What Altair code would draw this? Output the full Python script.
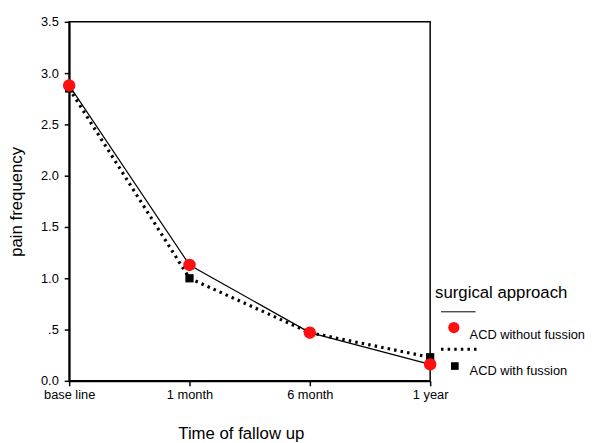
import altair as alt
import pandas as pd

times = ["base line", "1 month", "6 month", "1 year"]
without_fusion = [2.88, 1.13, 0.47, 0.16]
with_fusion = [2.85, 1.00, 0.47, 0.23]
series_names = ["ACD without fussion", "ACD with fussion"]
y_ticks = [0.0, 0.5, 1.0, 1.5, 2.0, 2.5, 3.0, 3.5]

rows = []
for t, a, b in zip(times, without_fusion, with_fusion):
    rows.append({"time": t, "value": a, "series": series_names[0]})
    rows.append({"time": t, "value": b, "series": series_names[1]})
df = pd.DataFrame(rows)

FONT = "Liberation Sans"

x_enc = alt.X("time:N", sort=times,
              scale=alt.Scale(type="point", padding=0),
              axis=alt.Axis(title="Time of fallow up", labelAngle=0, labelFontSize=13,
                            titleFontSize=17, titleFontWeight="normal", titlePadding=24,
                            titleX=174, tickSize=5, labelPadding=3))
y_enc = alt.Y("value:Q", scale=alt.Scale(domain=[0, 3.5], nice=False),
              axis=alt.Axis(title="pain frequency", values=y_ticks, labelFontSize=13,
                            labelExpr="datum.value == 0.5 ? '.5' : format(datum.value, '.1f')",
                            titleFontSize=17, titleFontWeight="normal", titlePadding=15,
                            tickSize=5, labelPadding=6, grid=False))

base = alt.Chart(df)

line_with = base.transform_filter(alt.datum.series == series_names[1]).mark_line(
    color="black", strokeWidth=3.2, strokeDash=[2.5, 4.2]
).encode(x=x_enc, y=y_enc)

line_without = base.transform_filter(alt.datum.series == series_names[0]).mark_line(
    color="black", strokeWidth=1.2
).encode(x=x_enc, y=y_enc)

pts_with = base.transform_filter(alt.datum.series == series_names[1]).mark_point(
    shape="square", filled=True, color="black", size=70, opacity=1
).encode(x=x_enc, y=y_enc)

pts_without = base.transform_filter(alt.datum.series == series_names[0]).mark_point(
    shape="circle", filled=True, color="#ff1010", size=160, opacity=1
).encode(x=x_enc, y=y_enc)

# Manual legend (SPSS style)
leg_title = alt.Chart(pd.DataFrame({"t": ["surgical approach"]})).mark_text(
    align="left", baseline="alphabetic", fontSize=17, font=FONT, color="black"
).encode(x=alt.value(371), y=alt.value(280), text="t:N")

leg_rule1 = alt.Chart(pd.DataFrame({"a": [0]})).mark_rule(color="black", strokeWidth=1).encode(
    x=alt.value(377), x2=alt.value(412), y=alt.value(294))

leg_pt1 = alt.Chart(pd.DataFrame({"a": [0]})).mark_point(
    shape="circle", filled=True, color="#ff1010", size=130, opacity=1
).encode(x=alt.value(390), y=alt.value(310))

leg_lab1 = alt.Chart(pd.DataFrame({"t": [series_names[0]]})).mark_text(
    align="left", baseline="alphabetic", fontSize=13, font=FONT, color="black"
).encode(x=alt.value(406), y=alt.value(322), text="t:N")

leg_rule2 = alt.Chart(pd.DataFrame({"a": [0]})).mark_rule(
    color="black", strokeWidth=3.2, strokeDash=[2.5, 4.2]).encode(
    x=alt.value(377), x2=alt.value(413), y=alt.value(332))

leg_pt2 = alt.Chart(pd.DataFrame({"a": [0]})).mark_point(
    shape="square", filled=True, color="black", size=60, opacity=1
).encode(x=alt.value(391), y=alt.value(349))

leg_lab2 = alt.Chart(pd.DataFrame({"t": [series_names[1]]})).mark_text(
    align="left", baseline="alphabetic", fontSize=13, font=FONT, color="black"
).encode(x=alt.value(406), y=alt.value(358), text="t:N")

chart = alt.layer(
    line_with, line_without, pts_with, pts_without,
    leg_title, leg_rule1, leg_pt1, leg_lab1, leg_rule2, leg_pt2, leg_lab2
).properties(
    width=366, height=364,
    autosize=alt.AutoSizeParams(type="none"),
    padding={"left": 62, "top": 11, "right": 159, "bottom": 60},
    background="white",
).configure_view(
    stroke="black", strokeWidth=1.5
).configure_axis(
    domainColor="black", domainWidth=2, tickColor="black", tickWidth=1.5,
    labelColor="black", titleColor="black", labelFont=FONT, titleFont=FONT
)

chart.save("out.html", embed_options={"renderer": "svg", "actions": False})
